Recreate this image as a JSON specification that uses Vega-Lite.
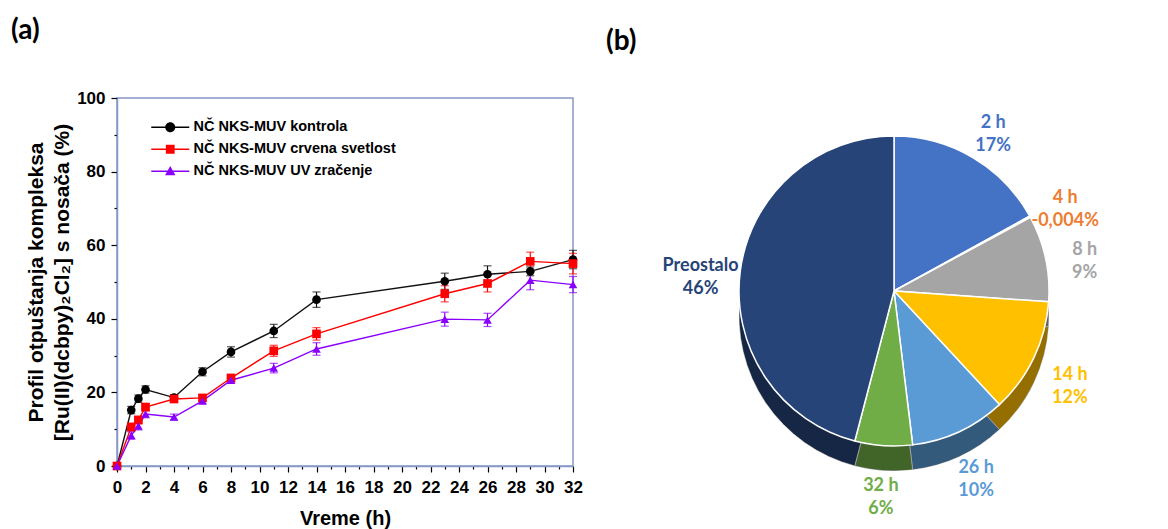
{
  "$schema": "https://vega.github.io/schema/vega-lite/v6.json",
  "padding": {"left": 10, "top": 16, "right": 0, "bottom": 0},
  "bounds": "flush",
  "spacing": 81,
  "config": {
    "font": "Liberation Sans",
    "background": "white"
  },
  "hconcat": [
    {
      "width": 456,
      "height": 368,
      "view": {"stroke": "#8798C6", "strokeWidth": 1.5},
      "title": {"text": "(a)", "anchor": "start", "frame": "group", "dx": -106, "offset": 44, "font": "Lato", "fontSize": 28, "fontWeight": "bold", "color": "black"},
      "data": {"values": [
        {"s": "NČ NKS-MUV kontrola", "t": 0, "v": 0, "e": 0},
        {"s": "NČ NKS-MUV kontrola", "t": 1, "v": 15.2, "e": 1},
        {"s": "NČ NKS-MUV kontrola", "t": 1.5, "v": 18.3, "e": 1},
        {"s": "NČ NKS-MUV kontrola", "t": 2, "v": 20.8, "e": 1},
        {"s": "NČ NKS-MUV kontrola", "t": 4, "v": 18.6, "e": 0.8},
        {"s": "NČ NKS-MUV kontrola", "t": 6, "v": 25.6, "e": 1.1},
        {"s": "NČ NKS-MUV kontrola", "t": 8, "v": 31.0, "e": 1.4},
        {"s": "NČ NKS-MUV kontrola", "t": 11, "v": 36.7, "e": 1.8},
        {"s": "NČ NKS-MUV kontrola", "t": 14, "v": 45.2, "e": 2.1},
        {"s": "NČ NKS-MUV kontrola", "t": 23, "v": 50.2, "e": 2.2},
        {"s": "NČ NKS-MUV kontrola", "t": 26, "v": 52.1, "e": 2.3},
        {"s": "NČ NKS-MUV kontrola", "t": 29, "v": 52.9, "e": 1.2},
        {"s": "NČ NKS-MUV kontrola", "t": 32, "v": 56.1, "e": 2.5},
        {"s": "NČ NKS-MUV crvena svetlost", "t": 0, "v": 0, "e": 0},
        {"s": "NČ NKS-MUV crvena svetlost", "t": 1, "v": 10.6, "e": 1},
        {"s": "NČ NKS-MUV crvena svetlost", "t": 1.5, "v": 12.5, "e": 1},
        {"s": "NČ NKS-MUV crvena svetlost", "t": 2, "v": 16.0, "e": 1},
        {"s": "NČ NKS-MUV crvena svetlost", "t": 4, "v": 18.2, "e": 0.8},
        {"s": "NČ NKS-MUV crvena svetlost", "t": 6, "v": 18.5, "e": 0.8},
        {"s": "NČ NKS-MUV crvena svetlost", "t": 8, "v": 23.9, "e": 1},
        {"s": "NČ NKS-MUV crvena svetlost", "t": 11, "v": 31.3, "e": 1.5},
        {"s": "NČ NKS-MUV crvena svetlost", "t": 14, "v": 35.9, "e": 1.7},
        {"s": "NČ NKS-MUV crvena svetlost", "t": 23, "v": 46.8, "e": 2.2},
        {"s": "NČ NKS-MUV crvena svetlost", "t": 26, "v": 49.6, "e": 2.3},
        {"s": "NČ NKS-MUV crvena svetlost", "t": 29, "v": 55.6, "e": 2.5},
        {"s": "NČ NKS-MUV crvena svetlost", "t": 32, "v": 55.0, "e": 2.8},
        {"s": "NČ NKS-MUV UV zračenje", "t": 0, "v": 0, "e": 0},
        {"s": "NČ NKS-MUV UV zračenje", "t": 1, "v": 8.3, "e": 1},
        {"s": "NČ NKS-MUV UV zračenje", "t": 1.5, "v": 10.9, "e": 1.1},
        {"s": "NČ NKS-MUV UV zračenje", "t": 2, "v": 14.1, "e": 1},
        {"s": "NČ NKS-MUV UV zračenje", "t": 4, "v": 13.3, "e": 0.8},
        {"s": "NČ NKS-MUV UV zračenje", "t": 6, "v": 17.7, "e": 0.9},
        {"s": "NČ NKS-MUV UV zračenje", "t": 8, "v": 23.3, "e": 0.8},
        {"s": "NČ NKS-MUV UV zračenje", "t": 11, "v": 26.6, "e": 1.3},
        {"s": "NČ NKS-MUV UV zračenje", "t": 14, "v": 31.8, "e": 1.7},
        {"s": "NČ NKS-MUV UV zračenje", "t": 23, "v": 39.9, "e": 1.9},
        {"s": "NČ NKS-MUV UV zračenje", "t": 26, "v": 39.7, "e": 1.8},
        {"s": "NČ NKS-MUV UV zračenje", "t": 29, "v": 50.5, "e": 2.6},
        {"s": "NČ NKS-MUV UV zračenje", "t": 32, "v": 49.3, "e": 2.2}
      ]},
      "encoding": {
        "x": {
          "field": "t", "type": "quantitative",
          "scale": {"domain": [0, 32], "nice": false},
          "axis": {
            "title": "Vreme (h)",
            "values": [0,1,2,3,4,5,6,7,8,9,10,11,12,13,14,15,16,17,18,19,20,21,22,23,24,25,26,27,28,29,30,31,32],
            "labelExpr": "datum.value % 2 === 0 ? datum.label : ''",
            "tickSize": {"condition": {"test": "datum.value % 2 === 0", "value": 6}, "value": 3},
            "grid": false,
            "labelFlush": false,
            "labelOverlap": false,
            "labelFontSize": 17, "labelFontWeight": "bold", "labelColor": "black", "labelPadding": 7,
            "titleFontSize": 20, "titleFontWeight": "bold", "titleColor": "black", "titlePadding": 13,
            "tickColor": "black", "tickWidth": 1.2, "domainColor": "#8798C6", "domainWidth": 1.5
          }
        },
        "y": {
          "field": "v", "type": "quantitative",
          "scale": {"domain": [0, 100], "nice": false},
          "axis": {
            "title": ["Profil otpuštanja kompleksa", "[Ru(II)(dcbpy)₂Cl₂] s nosača (%)"],
            "values": [0,10,20,30,40,50,60,70,80,90,100],
            "labelExpr": "datum.value % 20 === 0 ? datum.label : ''",
            "tickSize": {"condition": {"test": "datum.value % 20 === 0", "value": 6}, "value": 3},
            "grid": false,
            "labelOverlap": false,
            "labelFontSize": 17, "labelFontWeight": "bold", "labelColor": "black", "labelPadding": 6,
            "titleFontSize": 21, "titleFontWeight": "bold", "titleColor": "black", "titlePadding": 4, "titleLineHeight": 26,
            "tickColor": "black", "tickWidth": 1.2, "domainColor": "#8798C6", "domainWidth": 1.5
          }
        }
      },
      "resolve": {"scale": {"color": "independent", "shape": "independent"}},
      "layer": [
        {
          "mark": {"type": "line", "strokeWidth": 1.4},
          "encoding": {
            "color": {"field": "s", "type": "nominal", "legend": null,
              "scale": {"domain": ["NČ NKS-MUV kontrola", "NČ NKS-MUV crvena svetlost", "NČ NKS-MUV UV zračenje"], "range": ["#111111", "#FF0000", "#8A00FF"]}}
          }
        },
        {
          "mark": {"type": "errorbar", "ticks": true, "size": 8, "thickness": 1.2},
          "encoding": {
            "yError": {"field": "e"},
            "color": {"field": "s", "type": "nominal", "legend": null,
              "scale": {"domain": ["NČ NKS-MUV kontrola", "NČ NKS-MUV crvena svetlost", "NČ NKS-MUV UV zračenje"], "range": ["#111111", "#FF0000", "#8A00FF"]}}
          }
        },
        {
          "mark": {"type": "point", "filled": true, "opacity": 1, "size": 75},
          "encoding": {
            "color": {"field": "s", "type": "nominal", "legend": null,
              "scale": {"domain": ["NČ NKS-MUV kontrola", "NČ NKS-MUV crvena svetlost", "NČ NKS-MUV UV zračenje"], "range": ["#000000", "#FF0000", "#8A00FF"]}},
            "shape": {"field": "s", "type": "nominal", "legend": null,
              "scale": {"domain": ["NČ NKS-MUV kontrola", "NČ NKS-MUV crvena svetlost", "NČ NKS-MUV UV zračenje"], "range": ["circle", "square", "triangle-up"]}}
          }
        },
        {
          "transform": [{"filter": "false"}],
          "mark": {"type": "point", "filled": true, "opacity": 1},
          "encoding": {
            "color": {"field": "s", "type": "nominal",
              "scale": {"domain": ["NČ NKS-MUV kontrola", "NČ NKS-MUV crvena svetlost", "NČ NKS-MUV UV zračenje"], "range": ["#000000", "#FF0000", "#8A00FF"]},
              "legend": {"title": null, "orient": "none", "legendX": 46, "legendY": 22, "symbolSize": 64, "symbolStrokeWidth": 0, "labelOffset": 16, "labelFont": "Liberation Sans", "labelFontSize": 14.5, "labelFontWeight": "bold", "labelColor": "black", "rowPadding": 7, "padding": 0, "labelLimit": 400}},
            "shape": {"field": "s", "type": "nominal",
              "scale": {"domain": ["NČ NKS-MUV kontrola", "NČ NKS-MUV crvena svetlost", "NČ NKS-MUV UV zračenje"], "range": [
                "M-4.75,-0.16H4.75V0.16H-4.75Z M1.25,0A1.25,1.25,0,1,1,-1.25,0A1.25,1.25,0,1,1,1.25,0Z",
                "M-4.75,-0.16H4.75V0.16H-4.75Z M-1.1,-1.1H1.1V1.1H-1.1Z",
                "M-4.75,-0.16H4.75V0.16H-4.75Z M0,-1.3L1.3,1H-1.3Z"]},
              "legend": {"title": null, "orient": "none", "legendX": 46, "legendY": 22, "symbolSize": 64, "symbolStrokeWidth": 0, "labelOffset": 16, "labelFont": "Liberation Sans", "labelFontSize": 14.5, "labelFontWeight": "bold", "labelColor": "black", "rowPadding": 7, "padding": 0, "labelLimit": 400}}
          }
        }
      ]
    },
    {
      "width": 480,
      "height": 386,
      "view": {"stroke": null},
      "title": {"text": "(b)", "anchor": "start", "frame": "group", "dx": -48, "offset": 42, "font": "Lato", "fontSize": 28, "fontWeight": "bold", "color": "black"},
      "data": {"values": [
        {"cat": "2 h", "val": 17, "o": 1, "lab": "2 h\n17%"},
        {"cat": "4 h", "val": 0.15, "o": 2, "lab": "4 h\n-0,004%"},
        {"cat": "8 h", "val": 9, "o": 3, "lab": "8 h\n9%"},
        {"cat": "14 h", "val": 12, "o": 4, "lab": "14 h\n12%"},
        {"cat": "26 h", "val": 10, "o": 5, "lab": "26 h\n10%"},
        {"cat": "32 h", "val": 6, "o": 6, "lab": "32 h\n6%"},
        {"cat": "Preostalo", "val": 46, "o": 7, "lab": "Preostalo\n46%"}
      ]},
      "encoding": {
        "theta": {"field": "val", "type": "quantitative", "stack": true},
        "order": {"field": "o", "type": "quantitative"},
        "color": {"field": "cat", "type": "nominal", "legend": null,
          "scale": {"domain": ["2 h", "4 h", "8 h", "14 h", "26 h", "32 h", "Preostalo"],
                    "range": ["#4472C4", "#ED7D31", "#A5A5A5", "#FFC000", "#5B9BD5", "#70AD47", "#264478"]}}
      },
      "layer": [
        {"mark": {"type": "arc", "outerRadius": 155, "yOffset": 25, "stroke": "white", "strokeWidth": 1}},
        {"mark": {"type": "arc", "outerRadius": 155, "yOffset": 25, "opacity": 0.42}, "encoding": {"color": {"value": "black"}}},
        {"mark": {"type": "arc", "outerRadius": 155, "stroke": "white", "strokeWidth": 1.5}},
        {"mark": {"type": "text", "radius": 195, "font": "Lato", "fontSize": 18, "fontWeight": "bold", "lineBreak": "\n", "align": "center", "baseline": "middle", "lineHeight": 23},
         "encoding": {"text": {"field": "lab"}}}
      ]
    }
  ]
}
